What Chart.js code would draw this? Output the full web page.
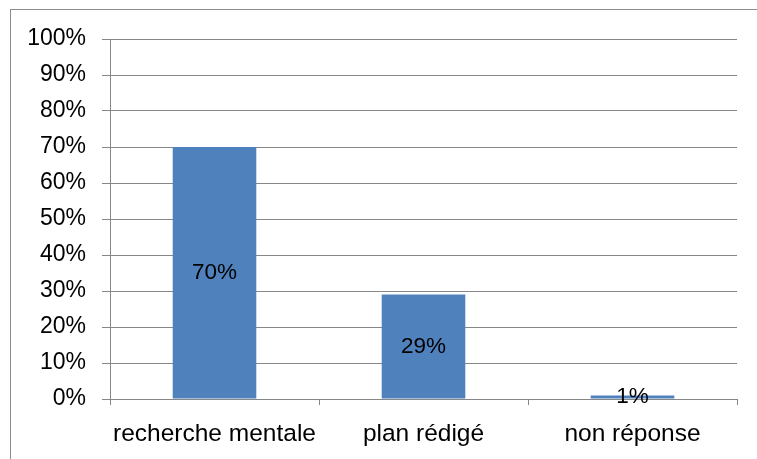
<!DOCTYPE html>
<html>
<head>
<meta charset="utf-8">
<script src="https://cdn.jsdelivr.net/npm/chart.js@4"></script>
<style>
  html, body { margin: 0; padding: 0; background: #fff; }
  #wrap { width: 757px; height: 459px; }
</style>
</head>
<body>
<div id="wrap"><canvas id="chart" width="757" height="459"></canvas></div>
<script>
const categories = ['recherche mentale', 'plan rédigé', 'non réponse'];
const values = [70, 29, 1];
const yTicks = [0, 10, 20, 30, 40, 50, 60, 70, 80, 90, 100];

const FONT = "'Liberation Sans', Arial, sans-serif";
const GRID = '#878787';

// outer frame around the whole chart, like the office export
const framePlugin = {
  id: 'frame',
  beforeDraw(chart) {
    const ctx = chart.ctx;
    ctx.save();
    ctx.strokeStyle = '#8c8c8c';
    ctx.lineWidth = 1;
    ctx.strokeRect(10.5, 9.5, chart.width + 20, chart.height + 20);
    ctx.restore();
  }
};

// value labels in the middle of each bar
const barLabels = {
  id: 'barLabels',
  afterDatasetsDraw(chart) {
    const ctx = chart.ctx;
    const meta = chart.getDatasetMeta(0);
    ctx.save();
    ctx.font = '22.5px ' + FONT;
    ctx.fillStyle = '#000';
    ctx.textAlign = 'center';
    ctx.textBaseline = 'middle';
    meta.data.forEach((bar, i) => {
      ctx.fillText(values[i] + '%', bar.x, (bar.y + bar.base) / 2);
    });
    ctx.restore();
  }
};

new Chart(document.getElementById('chart'), {
  type: 'bar',
  data: {
    labels: categories,
    datasets: [{
      data: values,
      backgroundColor: '#4F81BD',
      borderWidth: 0,
      categoryPercentage: 1,
      barPercentage: 0.4
    }]
  },
  options: {
    responsive: false,
    animation: false,
    layout: { padding: { top: 39, right: 20, left: 0, bottom: 0 } },
    plugins: {
      legend: { display: false },
      tooltip: { enabled: false }
    },
    scales: {
      x: {
        grid: {
          drawOnChartArea: false,
          drawTicks: true,
          tickLength: 6,
          color: GRID
        },
        border: { color: GRID },
        ticks: {
          color: '#000',
          font: { family: FONT, size: 24.5 },
          padding: 15,
          maxRotation: 0
        },
        afterFit(scale) { scale.height = 60; }
      },
      y: {
        min: 0,
        max: 100,
        afterBuildTicks(scale) {
          scale.ticks = yTicks.map(v => ({ value: v }));
        },
        grid: {
          color: GRID,
          tickLength: 8
        },
        border: { color: GRID },
        ticks: {
          color: '#000',
          font: { family: FONT, size: 23 },
          padding: 16,
          callback: v => v + '%'
        },
        afterFit(scale) { scale.width = 110; }
      }
    }
  },
  plugins: [framePlugin, barLabels]
});
</script>
</body>
</html>
